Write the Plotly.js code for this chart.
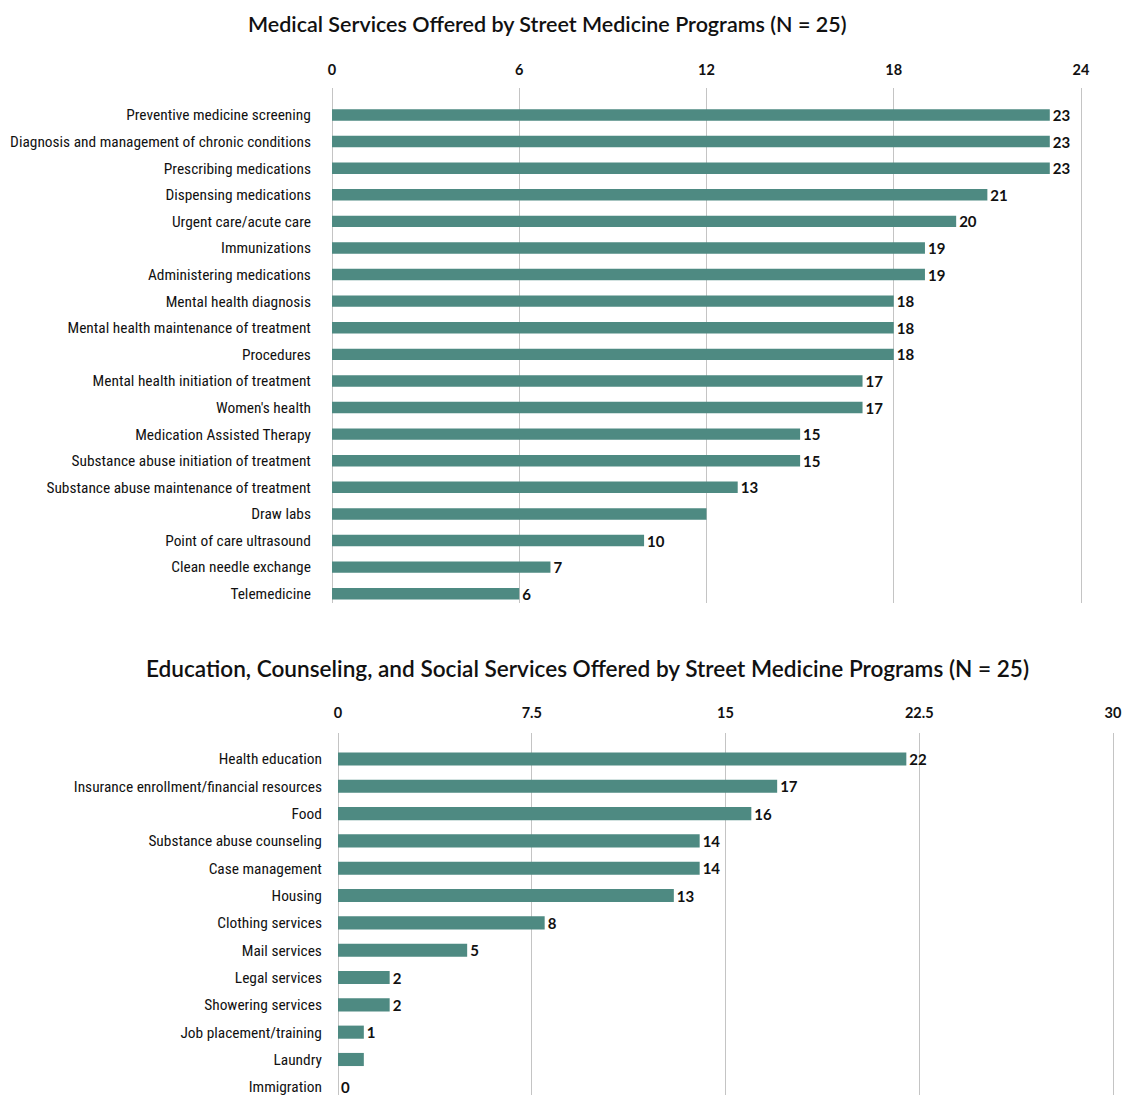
<!DOCTYPE html>
<html>
<head>
<meta charset="utf-8">
<script src="https://cdn.plot.ly/plotly-3.0.1.min.js"></script>
<style>html,body{margin:0;padding:0;background:#fff;}#chart{width:1125px;height:1095px;}</style>
</head>
<body>
<div id="chart"></div>
<script>
// ---- Data ----
const medicalCategories = [
  "Preventive medicine screening",
  "Diagnosis and management of chronic conditions",
  "Prescribing medications",
  "Dispensing medications",
  "Urgent care/acute care",
  "Immunizations",
  "Administering medications",
  "Mental health diagnosis",
  "Mental health maintenance of treatment",
  "Procedures",
  "Mental health initiation of treatment",
  "Women's health",
  "Medication Assisted Therapy",
  "Substance abuse initiation of treatment",
  "Substance abuse maintenance of treatment",
  "Draw labs",
  "Point of care ultrasound",
  "Clean needle exchange",
  "Telemedicine"
];
const medicalValues = [23, 23, 23, 21, 20, 19, 19, 18, 18, 18, 17, 17, 15, 15, 13, 12, 10, 7, 6];
const medicalLabels = ["23","23","23","21","20","19","19","18","18","18","17","17","15","15","13","","10","7","6"];
const medicalTicks = [0, 6, 12, 18, 24];

const socialCategories = [
  "Health education",
  "Insurance enrollment/financial resources",
  "Food",
  "Substance abuse counseling",
  "Case management",
  "Housing",
  "Clothing services",
  "Mail services",
  "Legal services",
  "Showering services",
  "Job placement/training",
  "Laundry",
  "Immigration"
];
const socialValues = [22, 17, 16, 14, 14, 13, 8, 5, 2, 2, 1, 1, 0];
const socialLabels = ["22","17","16","14","14","13","8","5","2","2","1","","0"];
const socialTicks = [0, 7.5, 15, 22.5, 30];

const titleTop = "Medical Services Offered by Street Medicine Programs (N = 25)";
const titleBottom = "Education, Counseling, and Social Services Offered by Street Medicine Programs (N = 25)";

// ---- Styles ----
const W = 1125, H = 1095;
const barColor = "#4e8a82";
const gridColor = "#c4c4c4";
const catFont = {family: "'Liberation Sans Narrow', 'Roboto Condensed', Roboto, sans-serif", size: 15.4, color: "#111"};
const tickFont = {family: "Lato, 'Open Sans', sans-serif", size: 14.5, color: "#111", weight: 700};
const valFont = {family: "Lato, 'Open Sans', sans-serif", size: 15, color: "#111", weight: 700};
const titleFont = {family: "Lato, 'Open Sans', sans-serif", size: 21.5, color: "#111", weight: 600};
const titleFont2 = {family: "Lato, 'Open Sans', sans-serif", size: 22.6, color: "#111", weight: 600};

const traces = [
  {
    type: "bar", orientation: "h",
    y: medicalCategories, x: medicalValues,
    text: medicalLabels, textposition: "outside", cliponaxis: false,
    constraintext: "none", textfont: valFont,
    marker: {color: barColor}, width: 0.43,
    xaxis: "x", yaxis: "y", hoverinfo: "x+y"
  },
  {
    type: "bar", orientation: "h",
    y: socialCategories, x: socialValues,
    text: socialLabels, textposition: "outside", cliponaxis: false,
    constraintext: "none", textfont: valFont,
    marker: {color: barColor}, width: 0.48,
    xaxis: "x2", yaxis: "y2", hoverinfo: "x+y"
  }
];

const px = v => v / W;
const py = v => 1 - v / H;

// unit widths in px
const u1 = (1081 - 332) / 24;
const u2 = (1113 - 338) / 30;

const layout = {
  width: W, height: H,
  margin: {l: 0, r: 0, t: 0, b: 0},
  paper_bgcolor: "#fff", plot_bgcolor: "#fff",
  showlegend: false,
  xaxis: {
    domain: [px(332), px(332 + 24.2 * u1)], anchor: "y", side: "top",
    range: [0, 24.2], tickvals: medicalTicks, ticktext: medicalTicks.map(String),
    showgrid: true, gridcolor: gridColor, gridwidth: 1,
    zeroline: true, zerolinecolor: gridColor, zerolinewidth: 1,
    showline: false, ticks: "outside", ticklen: 7, tickcolor: "rgba(0,0,0,0)",
    tickfont: tickFont, fixedrange: true
  },
  yaxis: {
    domain: [py(603), py(88.4)], anchor: "x",
    type: "category", categoryorder: "array", categoryarray: medicalCategories,
    range: [18.35, -1],
    showgrid: false, zeroline: false, showline: false,
    ticks: "outside", ticklen: 17, tickcolor: "rgba(0,0,0,0)",
    tickfont: catFont, fixedrange: true
  },
  xaxis2: {
    domain: [px(338), px(338 + 30.2 * u2)], anchor: "y2", side: "top",
    range: [0, 30.2], tickvals: socialTicks, ticktext: socialTicks.map(String),
    showgrid: true, gridcolor: gridColor, gridwidth: 1,
    zeroline: true, zerolinecolor: gridColor, zerolinewidth: 1,
    showline: false, ticks: "outside", ticklen: 8, tickcolor: "rgba(0,0,0,0)",
    tickfont: tickFont, fixedrange: true
  },
  yaxis2: {
    domain: [0, py(733)], anchor: "x2",
    type: "category", categoryorder: "array", categoryarray: socialCategories,
    range: [12.3, -0.95],
    showgrid: false, zeroline: false, showline: false,
    ticks: "outside", ticklen: 12, tickcolor: "rgba(0,0,0,0)",
    tickfont: catFont, fixedrange: true
  },
  annotations: [
    {text: titleTop, xref: "paper", yref: "paper", x: px(547), y: py(24),
     xanchor: "center", yanchor: "middle", showarrow: false, font: titleFont},
    {text: titleBottom, xref: "paper", yref: "paper", x: px(588), y: py(668),
     xanchor: "center", yanchor: "middle", showarrow: false, font: titleFont2}
  ]
};

Plotly.newPlot("chart", traces, layout, {displayModeBar: false, staticPlot: true});
</script>
</body>
</html>
